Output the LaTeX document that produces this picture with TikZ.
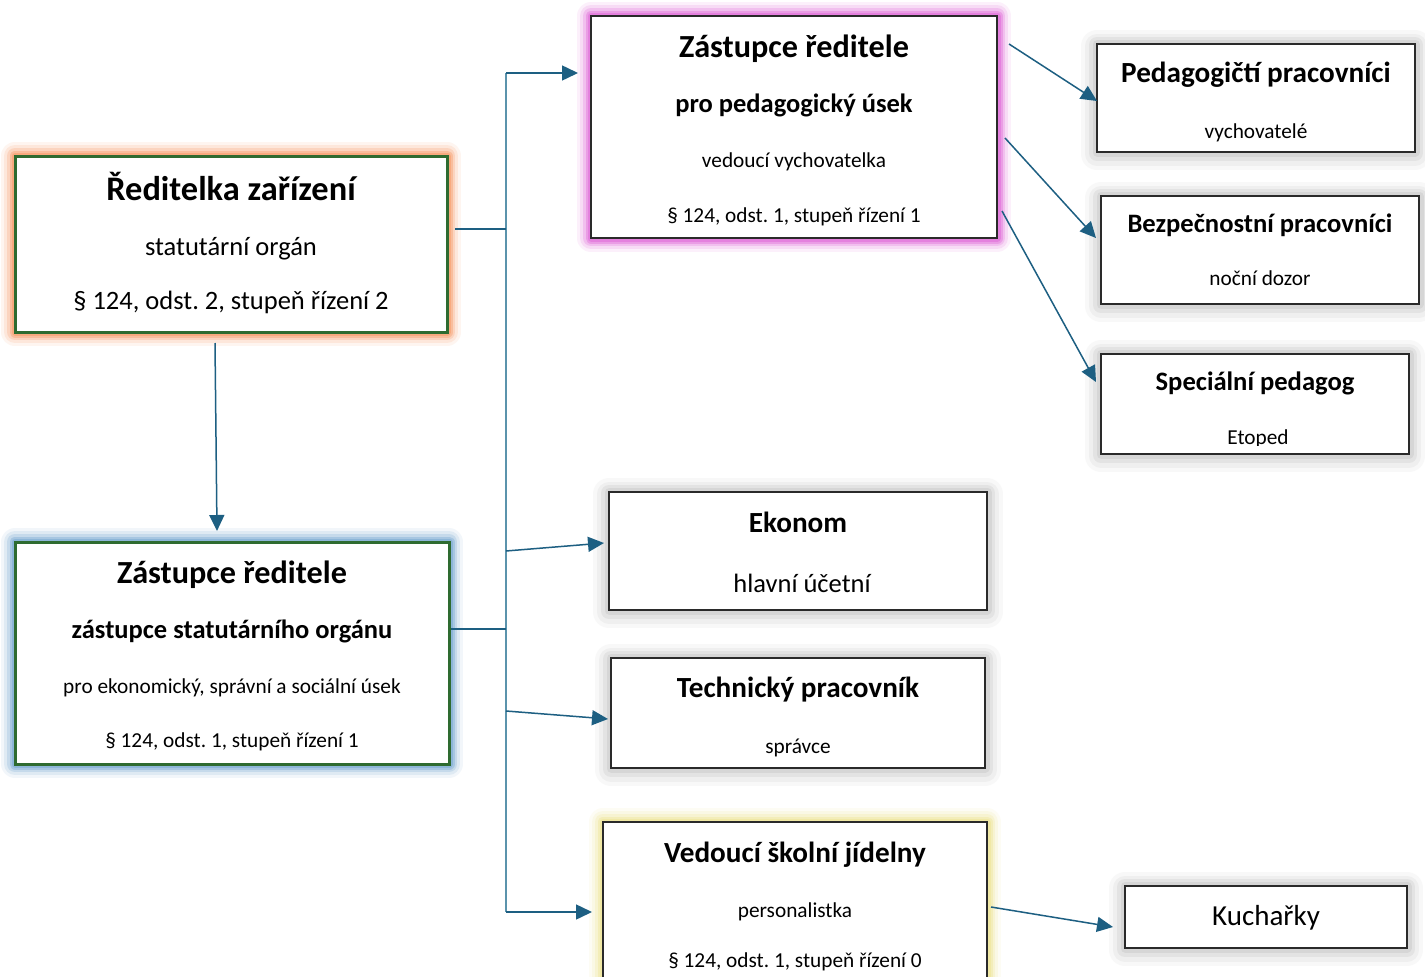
\documentclass[tikz,border=0pt]{standalone}
\usepackage{fontspec}
\setmainfont{Carlito}
\usetikzlibrary{arrows.meta,calc}
\frenchspacing
\definecolor{gline}{HTML}{2E6B30}
\definecolor{boxc}{HTML}{2A2A2A}
\definecolor{conn}{HTML}{1D5F82}
\definecolor{trunkc}{HTML}{5B93AC}
\definecolor{gorange}{HTML}{F7935C}
\definecolor{gblue}{HTML}{6FA3CF}
\definecolor{gpink}{HTML}{DE5FD6}
\definecolor{gyellow}{HTML}{EEE38E}
\definecolor{ggray}{HTML}{808080}
\tikzset{
  glow/.style={
    preaction={draw=#1, line width=28pt, draw opacity=0.09, line join=round},
    preaction={draw=#1, line width=22pt, draw opacity=0.14, line join=round},
    preaction={draw=#1, line width=16pt, draw opacity=0.22, line join=round},
    preaction={draw=#1, line width=11pt, draw opacity=0.35, line join=round},
    preaction={draw=#1, line width=7pt, draw opacity=0.45, line join=round}},
  softshadow/.style={
    preaction={draw=ggray, line width=32pt, draw opacity=0.05, line join=round, transform canvas={yshift=-2pt}},
    preaction={draw=ggray, line width=24pt, draw opacity=0.07, line join=round, transform canvas={yshift=-2pt}},
    preaction={draw=ggray, line width=16pt, draw opacity=0.10, line join=round, transform canvas={yshift=-1pt}},
    preaction={draw=ggray, line width=9pt, draw opacity=0.13, line join=round}},
  box/.style={rectangle, draw=boxc, line width=2pt, fill=white, inner sep=0pt},
  gbox/.style={box, draw=gline, line width=3pt},
  ttitle/.style={font=\fontsize{34.4}{38}\selectfont\bfseries, anchor=base, inner sep=0pt},
  tbig/.style={font=\fontsize{32.2}{36}\selectfont\bfseries, anchor=base, inner sep=0pt},
  tmidb/.style={font=\fontsize{29.2}{32}\selectfont\bfseries, anchor=base, inner sep=0pt},
  tsmb/.style={font=\fontsize{26.6}{30}\selectfont\bfseries, anchor=base, inner sep=0pt},
  tsubb/.style={font=\fontsize{26.5}{30}\selectfont\bfseries, anchor=base, inner sep=0pt},
  treg/.style={font=\fontsize{26.5}{30}\selectfont, anchor=base, inner sep=0pt},
  tregl/.style={font=\fontsize{29}{32}\selectfont, anchor=base, inner sep=0pt},
  tsm/.style={font=\fontsize{21.3}{24}\selectfont, anchor=base, inner sep=0pt},
  arr/.style={draw=conn, line width=1.5pt, -{Triangle[length=16pt,width=15pt]}},
  plain/.style={draw=conn, line width=1.5pt},
  trunk/.style={draw=trunkc, line width=2pt},
}
\begin{document}
\begin{tikzpicture}[x=1pt,y=-1pt]
\useasboundingbox (0,0) rectangle (1425,977);
\clip (0,0) rectangle (1425,977);
\fill[white] (0,0) rectangle (1425,977);

% boxes
\node[gbox, glow=gorange, minimum width=432pt, minimum height=176pt] (b1) at (231,244) {};
\node[gbox, glow=gblue, minimum width=434pt, minimum height=222pt] (b2) at (232,653) {};
\node[box, glow=gpink, minimum width=406pt, minimum height=222pt] (b3) at (794,127) {};
\node[box, softshadow, minimum width=318pt, minimum height=108pt] (b4) at (1256,98) {};
\node[box, softshadow, minimum width=318pt, minimum height=108pt] (b5) at (1260,250) {};
\node[box, softshadow, minimum width=308pt, minimum height=100pt] (b6) at (1255,404) {};
\node[box, softshadow, minimum width=378pt, minimum height=118pt] (b7) at (798,551) {};
\node[box, softshadow, minimum width=374pt, minimum height=110pt] (b8) at (798,713) {};
\node[box, glow=gyellow, minimum width=384pt, minimum height=188pt] (b9) at (795,916) {};
\node[box, softshadow, minimum width=282pt, minimum height=62pt] (b10) at (1266,917) {};

% texts
\node[ttitle] (b1a) at (231,200) {Ředitelka zařízení};
\node[treg] (b1b) at (231,255) {statutární orgán};
\node[treg] (b1c) at (231,309) {§ 124, odst. 2, stupeň řízení 2};

\node[tbig] (b2a) at (232,583) {Zástupce ředitele};
\node[tsubb] (b2b) at (232,638) {zástupce statutárního orgánu};
\node[tsm] (b2c) at (232,693) {pro ekonomický, správní a sociální úsek};
\node[tsm] (b2d) at (232,747) {§ 124, odst. 1, stupeň řízení 1};

\node[tbig] (b3a) at (794,57) {Zástupce ředitele};
\node[tsubb] (b3b) at (794,112) {pro pedagogický úsek};
\node[tsm] (b3c) at (794,167) {vedoucí vychovatelka};
\node[tsm] (b3d) at (794,222) {§ 124, odst. 1, stupeň řízení 1};

\node[tmidb] (b4a) at (1256,82) {Pedagogičtí pracovníci};
\node[tsm] (b4b) at (1256,138) {vychovatelé};

\node[tsmb] (b5a) at (1260,232) {Bezpečnostní pracovníci};
\node[tsm] (b5b) at (1260,285) {noční dozor};

\node[tsmb] (b6a) at (1255,390) {Speciální pedagog};
\begin{scope}
\clip (1101,420) rectangle (1409,445);
\node[tsm] (b6b) at (1258,444) {Etoped};
\end{scope}

\node[tmidb] (b7a) at (798,532) {Ekonom};
\node[treg] (b7b) at (802,592) {hlavní účetní};

\node[tmidb] (b8a) at (798,697) {Technický pracovník};
\node[tsm] (b8b) at (798,753) {správce};

\node[tmidb] (b9a) at (795,862) {Vedoucí školní jídelny};
\node[tsm] (b9b) at (795,917) {personalistka};
\node[tsm] (b9c) at (795,967) {§ 124, odst. 1, stupeň řízení 0};

\node[tregl] (b10a) at (1266,925) {Kuchařky};

% connector end points
\coordinate (t0) at (506,73);
\coordinate (t1) at (506,912);
\coordinate (r1) at (455,229);
\coordinate (r1t) at (506,229);
\coordinate (z2) at (451,629);
\coordinate (z2t) at (506,629);
\coordinate (d0) at (215,343);
\coordinate (d1) at (217,531);
\coordinate (a3) at (578,73);
\coordinate (e0) at (506,551);
\coordinate (e1) at (604,543);
\coordinate (h0) at (506,711);
\coordinate (h1) at (608,719);
\coordinate (j1) at (592,912);
\coordinate (p0) at (1009,44);
\coordinate (p1) at (1097,101);
\coordinate (q0) at (1005,138);
\coordinate (q1) at (1096,238);
\coordinate (s0) at (1002,211);
\coordinate (s1) at (1096,382);
\coordinate (k0) at (991,907);
\coordinate (k1) at (1113,927);

% connectors
\draw[trunk] (t0) -- (t1);
\draw[plain] (r1) -- (r1t);
\draw[plain] (z2) -- (z2t);
\draw[arr] (d0) -- (d1);
\draw[arr] (t0) -- (a3);
\draw[arr] (e0) -- (e1);
\draw[arr] (h0) -- (h1);
\draw[arr] (t1) -- (j1);
\draw[arr] (p0) -- (p1);
\draw[arr] (q0) -- (q1);
\draw[arr] (s0) -- (s1);
\draw[arr] (k0) -- (k1);
\end{tikzpicture}
\end{document}
